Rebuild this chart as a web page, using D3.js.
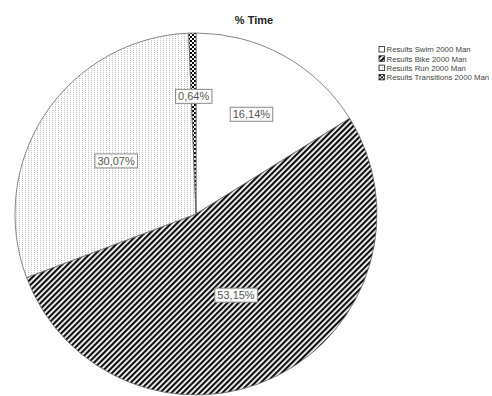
<!DOCTYPE html>
<html><head><meta charset="utf-8">
<script src="https://cdn.jsdelivr.net/npm/d3@7"></script>
<style>body{margin:0;background:#fff}svg{display:block}</style>
</head><body>
<script>
const title = "% Time";
const categories = ["Results Swim 2000 Man","Results Bike 2000 Man","Results Run 2000 Man","Results Transitions 2000 Man"];
const values = [16.14, 53.15, 30.07, 0.64];
const valueLabels = ["16,14%","53,15%","30,07%","0,64%"];

const W = 492, H = 396;
const cx = 196, cy = 214, R = 181;
const labelRadiusFactor = [0.63, 0.5, 0.53, 0.65];

const svg = d3.select("body").append("svg").attr("width", W).attr("height", H);
const defs = svg.append("defs");

const pSwim = defs.append("pattern").attr("id","pSwim").attr("patternUnits","userSpaceOnUse").attr("width",4).attr("height",4);
pSwim.append("rect").attr("width",4).attr("height",4).attr("fill","#fff");

const pBike = defs.append("pattern").attr("id","pBike").attr("patternUnits","userSpaceOnUse")
  .attr("width",4).attr("height",4).attr("patternTransform","rotate(45)");
pBike.append("rect").attr("width",4).attr("height",4).attr("fill","#fff");
pBike.append("rect").attr("width",2.2).attr("height",4).attr("fill","#111");

const pRun = defs.append("pattern").attr("id","pRun").attr("patternUnits","userSpaceOnUse").attr("width",3).attr("height",2);
pRun.append("rect").attr("width",3).attr("height",2).attr("fill","#fff");
pRun.append("rect").attr("width",1).attr("height",1).attr("fill","#c0c0c0");

const pTr = defs.append("pattern").attr("id","pTr").attr("patternUnits","userSpaceOnUse").attr("width",4).attr("height",4);
pTr.append("rect").attr("width",4).attr("height",4).attr("fill","#fff");
pTr.append("rect").attr("width",2).attr("height",2).attr("fill","#000");
pTr.append("rect").attr("x",2).attr("y",2).attr("width",2).attr("height",2).attr("fill","#000");

const fills = ["url(#pSwim)","url(#pBike)","url(#pRun)","url(#pTr)"];

const pie = d3.pie().sort(null).value(d => d);
const arcs = pie(values);
const arc = d3.arc().innerRadius(0).outerRadius(R);

const g = svg.append("g").attr("transform", `translate(${cx},${cy})`);
g.selectAll("path.slice").data(arcs).enter().append("path")
  .attr("class","slice")
  .attr("d", arc)
  .attr("fill", (d,i) => fills[i])
  .attr("stroke", "#666")
  .attr("stroke-width", 0.8);

const lblG = g.selectAll("g.lbl").data(arcs).enter().append("g").attr("class","lbl")
  .attr("transform", (d,i) => {
    const rr = R * labelRadiusFactor[i];
    const c = d3.arc().innerRadius(rr).outerRadius(rr).centroid(d);
    return `translate(${c[0]},${c[1]})`;
  });
lblG.each(function(d,i){
  const gg = d3.select(this);
  const t = gg.append("text").text(valueLabels[i])
    .attr("text-anchor","middle").attr("dy","0.36em")
    .attr("font-family","Liberation Sans, Arial, sans-serif").attr("font-size",11)
    .attr("fill","#555");
  const bb = t.node().getBBox();
  gg.insert("rect","text")
    .attr("x", bb.x - 2.5).attr("y", bb.y - 1)
    .attr("width", bb.width + 5).attr("height", bb.height + 2)
    .attr("fill","#fff").attr("stroke","#888").attr("stroke-width",1);
});

svg.append("text").text(title).attr("x",254).attr("y",24)
  .attr("text-anchor","middle").attr("font-family","Liberation Sans, Arial, sans-serif")
  .attr("font-weight","bold").attr("font-size",11).attr("fill","#222");

const leg = svg.append("g").attr("transform","translate(379,46.5)");
const li = leg.selectAll("g").data(categories).enter().append("g")
  .attr("transform",(d,i)=>`translate(0,${i*9.3})`);
li.append("rect").attr("x",0).attr("y",0).attr("width",5.5).attr("height",5.5)
  .attr("fill",(d,i)=>fills[i]).attr("stroke","#222").attr("stroke-width",0.8);
li.append("text").text(d=>d).attr("x",7.5).attr("y",3).attr("dy","0.35em")
  .attr("font-family","Liberation Sans, Arial, sans-serif").attr("font-size",7.8).attr("fill","#444");
</script>
</body></html>
